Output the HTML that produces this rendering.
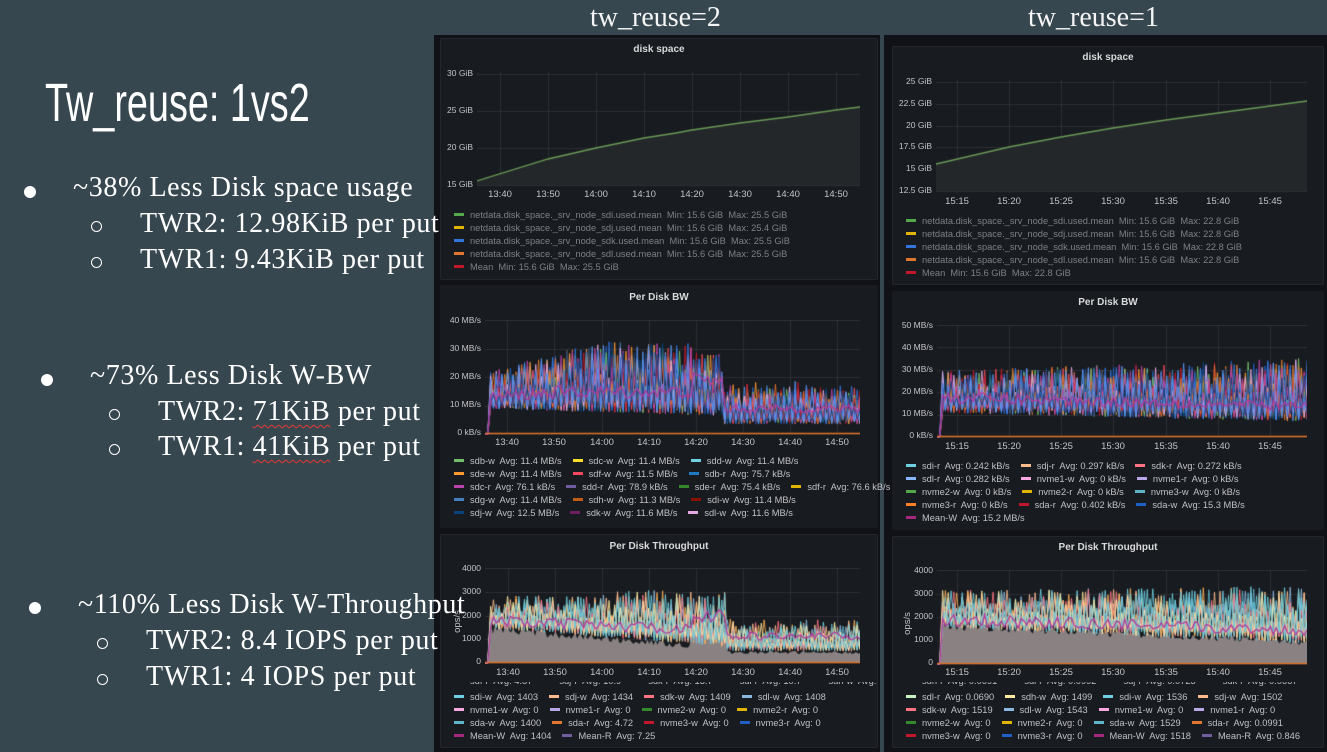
<!DOCTYPE html>
<html><head><meta charset="utf-8">
<style>
html,body{margin:0;padding:0}
body{width:1327px;height:752px;overflow:hidden;background:#37474f;position:relative;font-family:"Liberation Sans",sans-serif}
.abs{position:absolute}
.dash{position:absolute;background:#111217}
.panel{position:absolute;background:#181b1f;border:1px solid #23262c;border-radius:2px;box-sizing:border-box}
.ptitle{position:absolute;color:#d8d9da;font-size:10px;font-weight:bold;text-align:center;white-space:nowrap}
.yl{position:absolute;color:#c3c4c8;font-size:8.5px;text-align:right;width:60px;white-space:nowrap}
.xl{position:absolute;color:#c3c4c8;font-size:9.5px;white-space:nowrap;transform:translateX(-50%)}
.row{position:absolute;white-space:nowrap;font-size:9.3px;color:#c0c1c5;line-height:12px}
.row span{display:inline-block;margin-right:11px}
.row i{display:inline-block;width:10px;height:3px;vertical-align:middle;margin-right:6px;position:relative;top:-1px}
.gray{color:#7d8086}
.serif{font-family:"Liberation Serif",serif;color:#fff;position:absolute;white-space:nowrap;z-index:5}
.big{font-size:28px;letter-spacing:0.6px}
.dot{position:absolute;width:12px;height:12px;border-radius:50%;background:#fff;z-index:5}
.circ{position:absolute;width:9px;height:9px;border-radius:50%;border:1.5px solid #fff;z-index:5}
.wavy{text-decoration:underline wavy #e53935;text-decoration-thickness:1px;text-underline-offset:4px}
canvas{position:absolute}
</style></head><body>

<div class="dash" style="left:434px;top:35px;width:446px;height:717px"></div>
<div class="dash" style="left:884px;top:35px;width:443px;height:717px"></div>

<div class="serif" style="left:590px;top:2px;font-size:28px;color:#f5f5f5">tw_reuse=2</div>
<div class="serif" style="left:1028px;top:2px;font-size:28px;color:#f5f5f5">tw_reuse=1</div>

<div class="panel" style="left:440px;top:38px;width:438px;height:242px"></div>
<div class="panel" style="left:440px;top:285px;width:438px;height:243px;border-color:#181b1f"></div>
<div class="panel" style="left:440px;top:534px;width:438px;height:214px"></div>
<div class="panel" style="left:892px;top:46px;width:432px;height:239px"></div>
<div class="panel" style="left:892px;top:291px;width:432px;height:239px;border-color:#181b1f"></div>
<div class="panel" style="left:892px;top:536px;width:432px;height:212px"></div>

<div class="ptitle" style="left:440px;width:438px;top:44px">disk space</div>
<div class="ptitle" style="left:440px;width:438px;top:292px">Per Disk BW</div>
<div class="ptitle" style="left:440px;width:438px;top:541px">Per Disk Throughput</div>
<div class="ptitle" style="left:892px;width:432px;top:52px">disk space</div>
<div class="ptitle" style="left:892px;width:432px;top:297px">Per Disk BW</div>
<div class="ptitle" style="left:892px;width:432px;top:542px">Per Disk Throughput</div>

<canvas id="c1" width="383" height="115" style="left:477px;top:72px"></canvas>
<canvas id="c2" width="375" height="115" style="left:485px;top:320px"></canvas>
<canvas id="c3" width="375" height="96" style="left:485px;top:568px"></canvas>
<canvas id="c4" width="371" height="113" style="left:936px;top:80px"></canvas>
<canvas id="c5" width="370" height="113" style="left:937px;top:325px"></canvas>
<canvas id="c6" width="370" height="95" style="left:937px;top:570px"></canvas>

<div id="labels"></div>

<div class="row gray" style="left:454px;top:209px"><span><i style="background:#56a64b"></i>netdata.disk_space._srv_node_sdi.used.mean&nbsp; Min: 15.6 GiB&nbsp; Max: 25.5 GiB</span></div>
<div class="row gray" style="left:454px;top:222px"><span><i style="background:#e0b400"></i>netdata.disk_space._srv_node_sdj.used.mean&nbsp; Min: 15.6 GiB&nbsp; Max: 25.4 GiB</span></div>
<div class="row gray" style="left:454px;top:235px"><span><i style="background:#3274d9"></i>netdata.disk_space._srv_node_sdk.used.mean&nbsp; Min: 15.6 GiB&nbsp; Max: 25.5 GiB</span></div>
<div class="row gray" style="left:454px;top:248px"><span><i style="background:#e0752d"></i>netdata.disk_space._srv_node_sdl.used.mean&nbsp; Min: 15.6 GiB&nbsp; Max: 25.5 GiB</span></div>
<div class="row gray" style="left:454px;top:261px"><span><i style="background:#c4162a"></i>Mean&nbsp; Min: 15.6 GiB&nbsp; Max: 25.5 GiB</span></div>

<div class="row gray" style="left:906px;top:215px"><span><i style="background:#56a64b"></i>netdata.disk_space._srv_node_sdi.used.mean&nbsp; Min: 15.6 GiB&nbsp; Max: 22.8 GiB</span></div>
<div class="row gray" style="left:906px;top:228px"><span><i style="background:#e0b400"></i>netdata.disk_space._srv_node_sdj.used.mean&nbsp; Min: 15.6 GiB&nbsp; Max: 22.8 GiB</span></div>
<div class="row gray" style="left:906px;top:241px"><span><i style="background:#3274d9"></i>netdata.disk_space._srv_node_sdk.used.mean&nbsp; Min: 15.6 GiB&nbsp; Max: 22.8 GiB</span></div>
<div class="row gray" style="left:906px;top:254px"><span><i style="background:#e0752d"></i>netdata.disk_space._srv_node_sdl.used.mean&nbsp; Min: 15.6 GiB&nbsp; Max: 22.8 GiB</span></div>
<div class="row gray" style="left:906px;top:267px"><span><i style="background:#c4162a"></i>Mean&nbsp; Min: 15.6 GiB&nbsp; Max: 22.8 GiB</span></div>

<div class="row" style="left:454px;top:455px"><span><i style="background:#73bf69"></i>sdb-w&nbsp; Avg: 11.4 MB/s</span><span><i style="background:#fade2a"></i>sdc-w&nbsp; Avg: 11.4 MB/s</span><span><i style="background:#6ed0e0"></i>sdd-w&nbsp; Avg: 11.4 MB/s</span></div>
<div class="row" style="left:454px;top:468px"><span><i style="background:#ff9830"></i>sde-w&nbsp; Avg: 11.4 MB/s</span><span><i style="background:#f2495c"></i>sdf-w&nbsp; Avg: 11.5 MB/s</span><span><i style="background:#1f78c1"></i>sdb-r&nbsp; Avg: 75.7 kB/s</span></div>
<div class="row" style="left:454px;top:481px"><span><i style="background:#ba43a9"></i>sdc-r&nbsp; Avg: 76.1 kB/s</span><span><i style="background:#705da0"></i>sdd-r&nbsp; Avg: 78.9 kB/s</span><span><i style="background:#37872d"></i>sde-r&nbsp; Avg: 75.4 kB/s</span><span><i style="background:#e0b400"></i>sdf-r&nbsp; Avg: 76.6 kB/s</span></div>
<div class="row" style="left:454px;top:494px"><span><i style="background:#447ebc"></i>sdg-w&nbsp; Avg: 11.4 MB/s</span><span><i style="background:#c15c17"></i>sdh-w&nbsp; Avg: 11.3 MB/s</span><span><i style="background:#890f02"></i>sdi-w&nbsp; Avg: 11.4 MB/s</span></div>
<div class="row" style="left:454px;top:507px"><span><i style="background:#0a437c"></i>sdj-w&nbsp; Avg: 12.5 MB/s</span><span><i style="background:#6d1f62"></i>sdk-w&nbsp; Avg: 11.6 MB/s</span><span><i style="background:#e5a8e2"></i>sdl-w&nbsp; Avg: 11.6 MB/s</span></div>

<div class="row" style="left:906px;top:460px"><span><i style="background:#6ed0e0"></i>sdi-r&nbsp; Avg: 0.242 kB/s</span><span><i style="background:#fcbb8f"></i>sdj-r&nbsp; Avg: 0.297 kB/s</span><span><i style="background:#ff7383"></i>sdk-r&nbsp; Avg: 0.272 kB/s</span></div>
<div class="row" style="left:906px;top:473px"><span><i style="background:#8ab8ff"></i>sdl-r&nbsp; Avg: 0.282 kB/s</span><span><i style="background:#f7a8e0"></i>nvme1-w&nbsp; Avg: 0 kB/s</span><span><i style="background:#b8a8e8"></i>nvme1-r&nbsp; Avg: 0 kB/s</span></div>
<div class="row" style="left:906px;top:486px"><span><i style="background:#56a64b"></i>nvme2-w&nbsp; Avg: 0 kB/s</span><span><i style="background:#e0b400"></i>nvme2-r&nbsp; Avg: 0 kB/s</span><span><i style="background:#5fb4c8"></i>nvme3-w&nbsp; Avg: 0 kB/s</span></div>
<div class="row" style="left:906px;top:499px"><span><i style="background:#ff7f27"></i>nvme3-r&nbsp; Avg: 0 kB/s</span><span><i style="background:#c4162a"></i>sda-r&nbsp; Avg: 0.402 kB/s</span><span><i style="background:#1f60c4"></i>sda-w&nbsp; Avg: 15.3 MB/s</span></div>
<div class="row" style="left:906px;top:512px"><span><i style="background:#a3287e"></i>Mean-W&nbsp; Avg: 15.2 MB/s</span></div>

<div class="abs" style="left:450px;top:682px;width:426px;height:6px;overflow:hidden"><div class="row" style="left:4px;top:-7px"><span><i style="background:#1f60c4"></i>sdf-r&nbsp; Avg: 4.87</span><span><i style="background:#a3287e"></i>sdj-r&nbsp; Avg: 10.9</span><span><i style="background:#705da0"></i>sdk-r&nbsp; Avg: 13.7</span><span><i style="background:#c8f2c2"></i>sdl-r&nbsp; Avg: 10.7</span><span><i style="background:#ffe8a0"></i>sdh-w&nbsp; Avg: 1380</span></div></div>
<div class="row" style="left:454px;top:691px"><span><i style="background:#6ed0e0"></i>sdi-w&nbsp; Avg: 1403</span><span><i style="background:#fcbb8f"></i>sdj-w&nbsp; Avg: 1434</span><span><i style="background:#ff7383"></i>sdk-w&nbsp; Avg: 1409</span><span><i style="background:#8ab8e0"></i>sdl-w&nbsp; Avg: 1408</span></div>
<div class="row" style="left:454px;top:704px"><span><i style="background:#f7a8e0"></i>nvme1-w&nbsp; Avg: 0</span><span><i style="background:#b8a8e8"></i>nvme1-r&nbsp; Avg: 0</span><span><i style="background:#37872d"></i>nvme2-w&nbsp; Avg: 0</span><span><i style="background:#e0b400"></i>nvme2-r&nbsp; Avg: 0</span></div>
<div class="row" style="left:454px;top:717px"><span><i style="background:#5fb4c8"></i>sda-w&nbsp; Avg: 1400</span><span><i style="background:#e0752d"></i>sda-r&nbsp; Avg: 4.72</span><span><i style="background:#c4162a"></i>nvme3-w&nbsp; Avg: 0</span><span><i style="background:#1f60c4"></i>nvme3-r&nbsp; Avg: 0</span></div>
<div class="row" style="left:454px;top:730px"><span><i style="background:#a3287e"></i>Mean-W&nbsp; Avg: 1404</span><span><i style="background:#705da0"></i>Mean-R&nbsp; Avg: 7.25</span></div>

<div class="abs" style="left:902px;top:682px;width:420px;height:6px;overflow:hidden"><div class="row" style="left:4px;top:-7px"><span><i style="background:#c4162a"></i>sdh-r&nbsp; Avg: 0.0691</span><span><i style="background:#1f60c4"></i>sdi-r&nbsp; Avg: 0.0992</span><span><i style="background:#a3287e"></i>sdj-r&nbsp; Avg: 0.0723</span><span><i style="background:#705da0"></i>sdk-r&nbsp; Avg: 0.0667</span></div></div>
<div class="row" style="left:906px;top:691px"><span><i style="background:#c8f2c2"></i>sdl-r&nbsp; Avg: 0.0690</span><span><i style="background:#ffe8a0"></i>sdh-w&nbsp; Avg: 1499</span><span><i style="background:#6ed0e0"></i>sdi-w&nbsp; Avg: 1536</span><span><i style="background:#fcbb8f"></i>sdj-w&nbsp; Avg: 1502</span></div>
<div class="row" style="left:906px;top:704px"><span><i style="background:#ff7383"></i>sdk-w&nbsp; Avg: 1519</span><span><i style="background:#8ab8e0"></i>sdl-w&nbsp; Avg: 1543</span><span><i style="background:#f7a8e0"></i>nvme1-w&nbsp; Avg: 0</span><span><i style="background:#b8a8e8"></i>nvme1-r&nbsp; Avg: 0</span></div>
<div class="row" style="left:906px;top:717px"><span><i style="background:#37872d"></i>nvme2-w&nbsp; Avg: 0</span><span><i style="background:#e0b400"></i>nvme2-r&nbsp; Avg: 0</span><span><i style="background:#5fb4c8"></i>sda-w&nbsp; Avg: 1529</span><span><i style="background:#e0752d"></i>sda-r&nbsp; Avg: 0.0991</span></div>
<div class="row" style="left:906px;top:730px"><span><i style="background:#c4162a"></i>nvme3-w&nbsp; Avg: 0</span><span><i style="background:#1f60c4"></i>nvme3-r&nbsp; Avg: 0</span><span><i style="background:#a3287e"></i>Mean-W&nbsp; Avg: 1518</span><span><i style="background:#705da0"></i>Mean-R&nbsp; Avg: 0.846</span></div>

<div class="abs" style="left:896px;top:618px;transform:rotate(-90deg);color:#c3c4c8;font-size:9.5px">ops/s</div>
<div class="abs" style="left:446px;top:616px;transform:rotate(-90deg);color:#c3c4c8;font-size:9.5px">ops/s</div>

<div class="abs" style="left:45px;top:72px;font-family:'Liberation Sans Narrow','Liberation Sans',sans-serif;font-size:54px;color:#fff;transform:scaleX(0.7);transform-origin:left;white-space:nowrap;z-index:5">Tw_reuse: 1vs2</div>

<div class="dot" style="left:24px;top:186px"></div>
<div class="serif big" style="left:73px;top:172px">~38% Less Disk space usage</div>
<div class="circ" style="left:91px;top:221px"></div>
<div class="serif big" style="left:140px;top:208px">TWR2: 12.98KiB per put</div>
<div class="circ" style="left:91px;top:257px"></div>
<div class="serif big" style="left:140px;top:244px">TWR1: 9.43KiB per put</div>

<div class="dot" style="left:41px;top:374px"></div>
<div class="serif big" style="left:90px;top:360px">~73% Less Disk W-BW</div>
<div class="circ" style="left:109px;top:409px"></div>
<div class="serif big" style="left:158px;top:396px">TWR2: <span class="wavy">71KiB</span> per put</div>
<div class="circ" style="left:109px;top:444px"></div>
<div class="serif big" style="left:158px;top:431px">TWR1: <span class="wavy">41KiB</span> per put</div>

<div class="dot" style="left:29px;top:602px"></div>
<div class="serif big" style="left:78px;top:589px">~110% Less Disk W-Throughput</div>
<div class="circ" style="left:97px;top:638px"></div>
<div class="serif big" style="left:146px;top:625px">TWR2: 8.4 IOPS per put</div>
<div class="circ" style="left:97px;top:674px"></div>
<div class="serif big" style="left:146px;top:661px">TWR1: 4 IOPS per put</div>

<script>
var L=document.getElementById('labels');
function add(cls,x,y,t){var d=document.createElement('div');d.className=cls;d.style.left=x+'px';d.style.top=y+'px';d.textContent=t;L.appendChild(d);}
function axes(cfg){
  var n=cfg.yl.length;
  cfg.yl.forEach(function(t,i){var y=cfg.y0+(cfg.y1-cfg.y0)*i/(n-1);var d=document.createElement('div');d.className='yl';d.style.left=(cfg.x0-64)+'px';d.style.top=(y-6)+'px';d.textContent=t;L.appendChild(d);});
  cfg.xt.forEach(function(p){add('xl',p[0],cfg.xly,p[1]);});
}
function grid(ctx,W,H,ny,xs){
  ctx.strokeStyle='#2c2f35';ctx.lineWidth=1;
  for(var i=0;i<ny;i++){var y=Math.round(H*i/(ny-1))+0.5;if(y>H)y=H-0.5;ctx.beginPath();ctx.moveTo(0,y);ctx.lineTo(W,y);ctx.stroke();}
  xs.forEach(function(x){ctx.beginPath();ctx.moveTo(x+0.5,0);ctx.lineTo(x+0.5,H);ctx.stroke();});
}
var seed=12345;function R(){seed=(seed*16807)%2147483647;return (seed-1)/2147483646;}

(function(){
 var c=document.getElementById('c1'),x=c.getContext('2d'),W=383,H=115,ox=477,oy=72;
 var xs=[500,548,596,644,692,740,788,836];
 axes({x0:477,y0:74,y1:185,yl:['30 GiB','25 GiB','20 GiB','15 GiB'],xt:xs.map(function(v,i){return [v,['13:40','13:50','14:00','14:10','14:20','14:30','14:40','14:50'][i]]}),xly:189});
 grid(x,W,H,1,xs.map(function(v){return v-ox}));
 x.strokeStyle='#2c2f35';[74,111,148,185].forEach(function(y){x.beginPath();x.moveTo(0,y-oy+0.5);x.lineTo(W,y-oy+0.5);x.stroke();});
 var pts=[[477,181],[548,159],[596,148],[644,138],[676,133],[692,130],[740,123],[788,117],[836,110],[860,107]];
 x.beginPath();x.moveTo(0,113);pts.forEach(function(p){x.lineTo(p[0]-ox,p[1]-oy)});x.lineTo(W,113);x.closePath();x.fillStyle='#23272a';x.fill();
 x.beginPath();pts.forEach(function(p,i){i?x.lineTo(p[0]-ox,p[1]-oy):x.moveTo(p[0]-ox,p[1]-oy)});x.strokeStyle='#6a9a58';x.lineWidth=1.3;x.stroke();
})();
(function(){
 var c=document.getElementById('c4'),x=c.getContext('2d'),W=371,H=113,ox=936,oy=80;
 var xs=[957,1009,1061,1113,1166,1218,1270];
 axes({x0:936,y0:82,y1:191,yl:['25 GiB','22.5 GiB','20 GiB','17.5 GiB','15 GiB','12.5 GiB'],xt:xs.map(function(v,i){return [v,['15:15','15:20','15:25','15:30','15:35','15:40','15:45'][i]]}),xly:196});
 grid(x,W,H,1,xs.map(function(v){return v-ox}));
 x.strokeStyle='#2c2f35';for(var i=0;i<6;i++){var y=82+i*21.8-oy;x.beginPath();x.moveTo(0,Math.round(y)+0.5);x.lineTo(W,Math.round(y)+0.5);x.stroke();}
 var pts=[[936,164],[1009,147],[1061,137],[1113,128],[1166,120],[1218,113],[1270,106],[1307,101]];
 x.beginPath();x.moveTo(0,111);pts.forEach(function(p){x.lineTo(p[0]-ox,p[1]-oy)});x.lineTo(W,111);x.closePath();x.fillStyle='#23272a';x.fill();
 x.beginPath();pts.forEach(function(p,i){i?x.lineTo(p[0]-ox,p[1]-oy):x.moveTo(p[0]-ox,p[1]-oy)});x.strokeStyle='#6a9a58';x.lineWidth=1.3;x.stroke();
})();

function spiky(id,ox,oy,W,H,ymax,xs,yl,xt,xly,colors,env,meanf,base,baseCol){
 var c=document.getElementById(id),x=c.getContext('2d');
 axes({x0:ox,y0:oy+1,y1:oy+H-2,yl:yl,xt:xs.map(function(v,i){return [v,xt[i]]}),xly:xly});
 grid(x,W,H-1,yl.length,xs.map(function(v){return v-ox}));
 function Y(v){return (H-2)-(v/ymax)*(H-3)+1;}
 var N=Math.floor(W/2.8);
 if(base){x.beginPath();x.moveTo(0,Y(0));var M=Math.floor(W/2);for(var i=0;i<=M;i++){var t=i/M;var b=base(t)*(0.85+0.3*R());if(t<0.008)b=0;x.lineTo(t*W,Y(b));}x.lineTo(W,Y(0));x.closePath();x.fillStyle=baseCol;x.fill();}
 colors.forEach(function(col,k){
   x.beginPath();x.strokeStyle=col;x.lineWidth=1;x.globalAlpha=0.85;
   for(var i=0;i<=N;i++){var t=i/N;var e=env(t);var r=R();var v=((i+k)%2==0)?e[0]+(e[1]-e[0])*(0.3+0.7*Math.pow(r,1.2)):e[0]+(e[1]-e[0])*0.2*r;if(t<0.008)v=0;var px=t*W;i?x.lineTo(px,Y(v)):x.moveTo(px,Y(v));}
   x.stroke();
 });
 x.globalAlpha=1;x.beginPath();x.strokeStyle='#b03a9c';x.lineWidth=1.3;
 for(var i=0;i<=N;i++){var t=i/N;var v=meanf(t)*(0.85+0.3*R());if(t<0.008)v=0;i?x.lineTo(t*W,Y(v)):x.moveTo(t*W,Y(v));}x.stroke();
 x.beginPath();x.strokeStyle='#e0752d';x.moveTo(0,Y(0)-0.5);x.lineTo(W,Y(0)-0.5);x.stroke();
}
var bwc=['#3274d9','#1f60c4','#5794f2','#f2495c','#ff9830','#73bf69','#447ebc','#c4162a','#e5a8e2','#e0752d','#3274d9','#ba43a9','#5794f2','#0a437c'];
spiky('c2',485,320,375,115,40,[507,554,602,649,696,743,790,837],['40 MB/s','30 MB/s','20 MB/s','10 MB/s','0 kB/s'],['13:40','13:50','14:00','14:10','14:20','14:30','14:40','14:50'],437,bwc,
 function(t){if(t<0.635){var h=22+11*Math.min(t/0.3,1);return [9-4*t,h+(t>0.55?-4:0)];}return [3.5,15+4*Math.random()];},
 function(t){if(t<0.635)return 13+2*Math.min(t/0.2,1)+(t>0.55?4:0);return 9;},null,null);
spiky('c5',937,325,370,113,50,[957,1009,1061,1113,1166,1218,1270],['50 MB/s','40 MB/s','30 MB/s','20 MB/s','10 MB/s','0 kB/s'],['15:15','15:20','15:25','15:30','15:35','15:40','15:45'],441,bwc,
 function(t){return [11-4*t,30+6*t];},function(t){return 18-4*t;},null,null);
var tpc=['#6ed0e0','#fcbb8f','#8ab8e0','#ffb357','#6ed0e0','#fcbb8f','#ff7383','#5fb4c8','#ffe8a0','#6ed0e0'];
spiky('c3',485,568,375,96,4000,[508,555,602,649,696,743,790,837],['4000','3000','2000','1000','0'],['13:40','13:50','14:00','14:10','14:20','14:30','14:40','14:50'],667,tpc,
 function(t){if(t<0.643)return [1500-800*t/0.643,2900+(t>0.3?300*Math.random():0)];return [500,1600+400*Math.random()];},
 function(t){if(t<0.643)return 1800-400*t/0.643+(t>0.55?600:0);return 1150;},
 function(t){if(t<0.643)return 1500-900*t/0.643+(t>0.55?700:0);return 450;},'#8a8282');
spiky('c6',937,570,370,95,4000,[957,1009,1061,1113,1166,1218,1270],['4000','3000','2000','1000','0'],['15:15','15:20','15:25','15:30','15:35','15:40','15:45'],667,tpc,
 function(t){return [1600-700*t,3200+200*t];},function(t){return 1950-500*t;},function(t){return 1750-800*t;},'#8a8282');
</script>
</body></html>
